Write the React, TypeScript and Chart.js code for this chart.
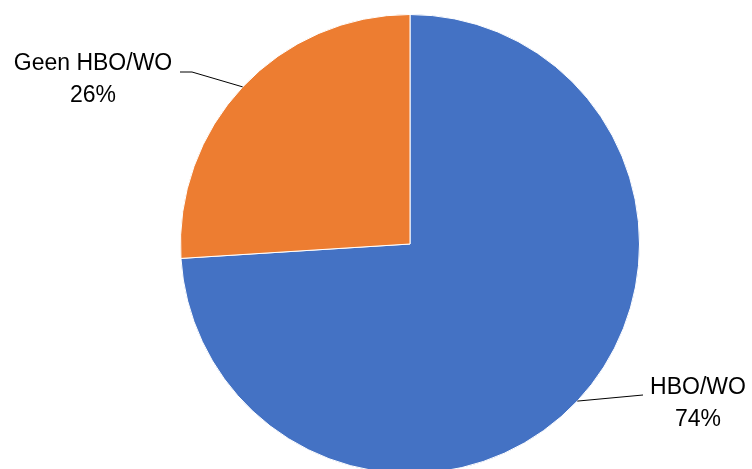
import React, { useEffect, useRef } from "react";
import { Chart, registerables } from "chart.js";

Chart.register(...registerables);

const categories = ["HBO/WO", "Geen HBO/WO"];
const values = [74, 26];
const percentLabels = ["74%", "26%"];
const colors = ["#4472C4", "#ED7D31"];

const W = 752;
const H = 488;

// label text placement (layout)
const labelLayout = [
  { cx: 698, y1: 388, y2: 420, elbowX: 643, elbowY: 395 },
  { cx: 93, y1: 64, y2: 96, elbowX: 192, elbowY: 72, startX: 180 },
];

const labelPlugin = {
  id: "pieLabels",
  afterDraw(chart: any) {
    const ctx = chart.ctx;
    const meta = chart.getDatasetMeta(0);
    ctx.save();
    meta.data.forEach((arc: any, i: number) => {
      const p = arc.getProps(["x", "y", "startAngle", "endAngle", "outerRadius"], true);
      const mid = (p.startAngle + p.endAngle) / 2;
      const ax = p.x + Math.cos(mid) * p.outerRadius;
      const ay = p.y + Math.sin(mid) * p.outerRadius;
      const L = labelLayout[i];
      ctx.strokeStyle = "#000000";
      ctx.lineWidth = 1;
      ctx.beginPath();
      ctx.moveTo(ax, ay);
      ctx.lineTo(L.elbowX, L.elbowY);
      if (L.startX !== undefined) ctx.lineTo(L.startX, L.elbowY);
      ctx.stroke();
      ctx.fillStyle = "#000000";
      ctx.font = "23px 'Liberation Sans', Arial, sans-serif";
      ctx.textAlign = "center";
      ctx.textBaseline = "middle";
      ctx.fillText(categories[i], L.cx, L.y1);
      ctx.fillText(percentLabels[i], L.cx, L.y2);
    });
    ctx.restore();
  },
};

export default function App() {
  const ref = useRef<HTMLCanvasElement | null>(null);
  useEffect(() => {
    if (!ref.current) return;
    const chart = new Chart(ref.current, {
      type: "pie",
      data: {
        labels: categories,
        datasets: [
          {
            data: values,
            backgroundColor: colors,
            borderColor: "#ffffff",
            borderWidth: 1,
          },
        ],
      },
      options: {
        responsive: false,
        animation: false,
        devicePixelRatio: 1,
        layout: { padding: { left: 180, right: 112, top: 14, bottom: 14 } },
        plugins: {
          legend: { display: false },
          tooltip: { enabled: false },
        },
      },
      plugins: [labelPlugin],
    });
    return () => chart.destroy();
  }, []);
  return (
    <div
      style={{
        position: "fixed",
        left: 0,
        top: 0,
        width: W,
        height: 469,
        overflow: "hidden",
        background: "#ffffff",
      }}
    >
      <canvas ref={ref} width={W} height={H} style={{ display: "block" }} />
    </div>
  );
}
